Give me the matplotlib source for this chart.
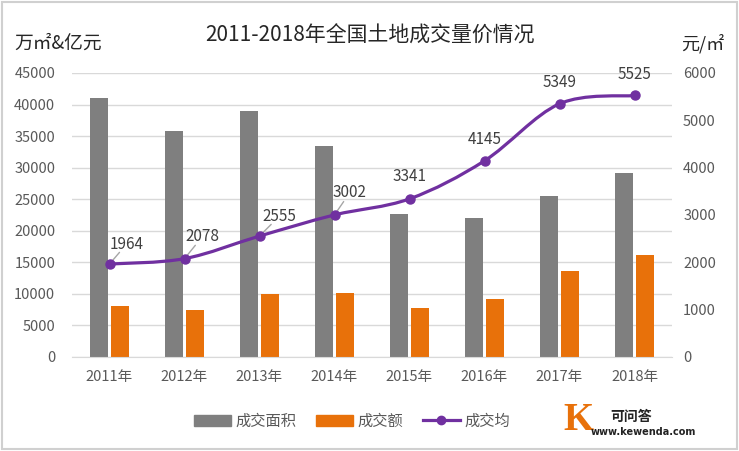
import matplotlib.pyplot as plt
from matplotlib.patches import Patch, PathPatch, Rectangle
from matplotlib.lines import Line2D
from matplotlib.path import Path

plt.rcParams['font.family'] = ['Noto Sans CJK SC', 'DejaVu Sans']

years = ['2011年', '2012年', '2013年', '2014年', '2015年', '2016年', '2017年', '2018年']
area = [41000, 35800, 38900, 33400, 22700, 22000, 25500, 29200]
amount = [8100, 7400, 10000, 10200, 7700, 9200, 13600, 16100]
price = [1964, 2078, 2555, 3002, 3341, 4145, 5349, 5525]

GRAY = '#7f7f7f'
ORANGE = '#E8710A'
PURPLE = '#7030A0'
TXT = '#595959'

# label offsets in points (x, y) and whether a leader line is drawn
label_off = [(12, 14), (13, 16), (14, 14), (11, 16), (0, 16), (0, 15), (0, 15), (0, 15)]
leader = [True, True, True, True, False, False, False, False]

fig = plt.figure(figsize=(7.39, 4.51), dpi=100)
ax = fig.add_axes([72 / 739, 1 - 357 / 451, 600 / 739, 284 / 451])
ax2 = ax.twinx()

x = list(range(len(years)))
w = 0.247
ax.bar([i - 0.143 for i in x], area, width=w, color=GRAY, zorder=2)
ax.bar([i + 0.143 for i in x], amount, width=w, color=ORANGE, zorder=2)

ax.set_xlim(-0.5, 7.5)
ax.set_ylim(0, 45000)
ax.set_yticks(range(0, 45001, 5000))
ax.set_xticks(x)
ax.set_xticklabels(years)
ax.grid(axis='y', color='#d9d9d9', lw=1)
ax.set_axisbelow(True)
ax.tick_params(axis='both', length=0, labelsize=10.5, labelcolor=TXT)
ax.tick_params(axis='y', pad=12)
ax.tick_params(axis='x', pad=9)
for s in ['top', 'right', 'left']:
    ax.spines[s].set_visible(False)
ax.spines['bottom'].set_color('#d9d9d9')

# smoothed price line (Bezier through the data points)
pts = list(zip(x, price))
n = len(pts)
verts = [pts[0]]
codes = [Path.MOVETO]
for i in range(n - 1):
    p0 = pts[max(i - 1, 0)]
    p1 = pts[i]
    p2 = pts[i + 1]
    p3 = pts[min(i + 2, n - 1)]
    c1 = (p1[0] + (p2[0] - p0[0]) / 6, p1[1] + (p2[1] - p0[1]) / 6)
    c2 = (p2[0] - (p3[0] - p1[0]) / 6, p2[1] - (p3[1] - p1[1]) / 6)
    verts += [c1, c2, p2]
    codes += [Path.CURVE4] * 3
ax2.add_patch(PathPatch(Path(verts, codes), fill=False, edgecolor=PURPLE, lw=2.3, zorder=3))
ax2.plot(x, price, 'o', color=PURPLE, ms=6.5, zorder=4)

for i, v in enumerate(price):
    dx, dy = label_off[i]
    ax2.annotate(str(v), xy=(i, v), xytext=(dx, dy), textcoords='offset points',
                 ha='center', va='center', fontsize=11, color='#404040', zorder=5)
    if leader[i]:
        ax2.annotate('', xy=(i, v), xytext=(dx * 0.6, dy * 0.6), textcoords='offset points',
                     arrowprops=dict(arrowstyle='-', color='#a6a6a6', lw=1, shrinkA=0, shrinkB=3))

ax2.set_ylim(0, 6000)
ax2.set_yticks(range(0, 6001, 1000))
ax2.tick_params(axis='y', length=0, labelsize=10.5, labelcolor=TXT, pad=8)
for s in ax2.spines.values():
    s.set_visible(False)

fig.text(370 / 739, 1 - 36 / 451, '2011-2018年全国土地成交量价情况', ha='center', va='center',
         fontsize=15, color='#262626')
fig.text(14 / 739, 1 - 43 / 451, '万㎡&亿元', ha='left', va='center', fontsize=13.5, color='#262626')
fig.text(724 / 739, 1 - 44 / 451, '元/㎡', ha='right', va='center', fontsize=13, color='#262626')

handles = [Patch(color=GRAY), Patch(color=ORANGE),
           Line2D([], [], color=PURPLE, lw=2.3, marker='o', ms=6)]
fig.legend(handles, ['成交面积', '成交额', '成交均'], ncol=3, loc='center',
           bbox_to_anchor=(352 / 739, 1 - 421 / 451), frameon=False, fontsize=11,
           handlelength=2.4, handletextpad=0.3, columnspacing=1.3, labelcolor=TXT)

# watermark
fig.text(578 / 739, 1 - 421 / 451, 'K', ha='center', va='center', fontsize=28,
         color=ORANGE, family='Liberation Serif', fontweight='bold')
fig.text(631 / 739, 1 - 417 / 451, '可问答', ha='center', va='center', fontsize=10,
         color='#222222', fontweight='bold')
fig.text(643 / 739, 1 - 432 / 451, 'www.kewenda.com', ha='center', va='center', fontsize=7,
         color='#222222', fontweight='bold', family='DejaVu Sans')

fig.patches.append(Rectangle((2 / 739, 2 / 451), 735 / 739, 447 / 451, transform=fig.transFigure,
                             fill=False, edgecolor='#d0d0d0', lw=1.5))

fig.savefig('out.png', dpi=100, facecolor='white')
